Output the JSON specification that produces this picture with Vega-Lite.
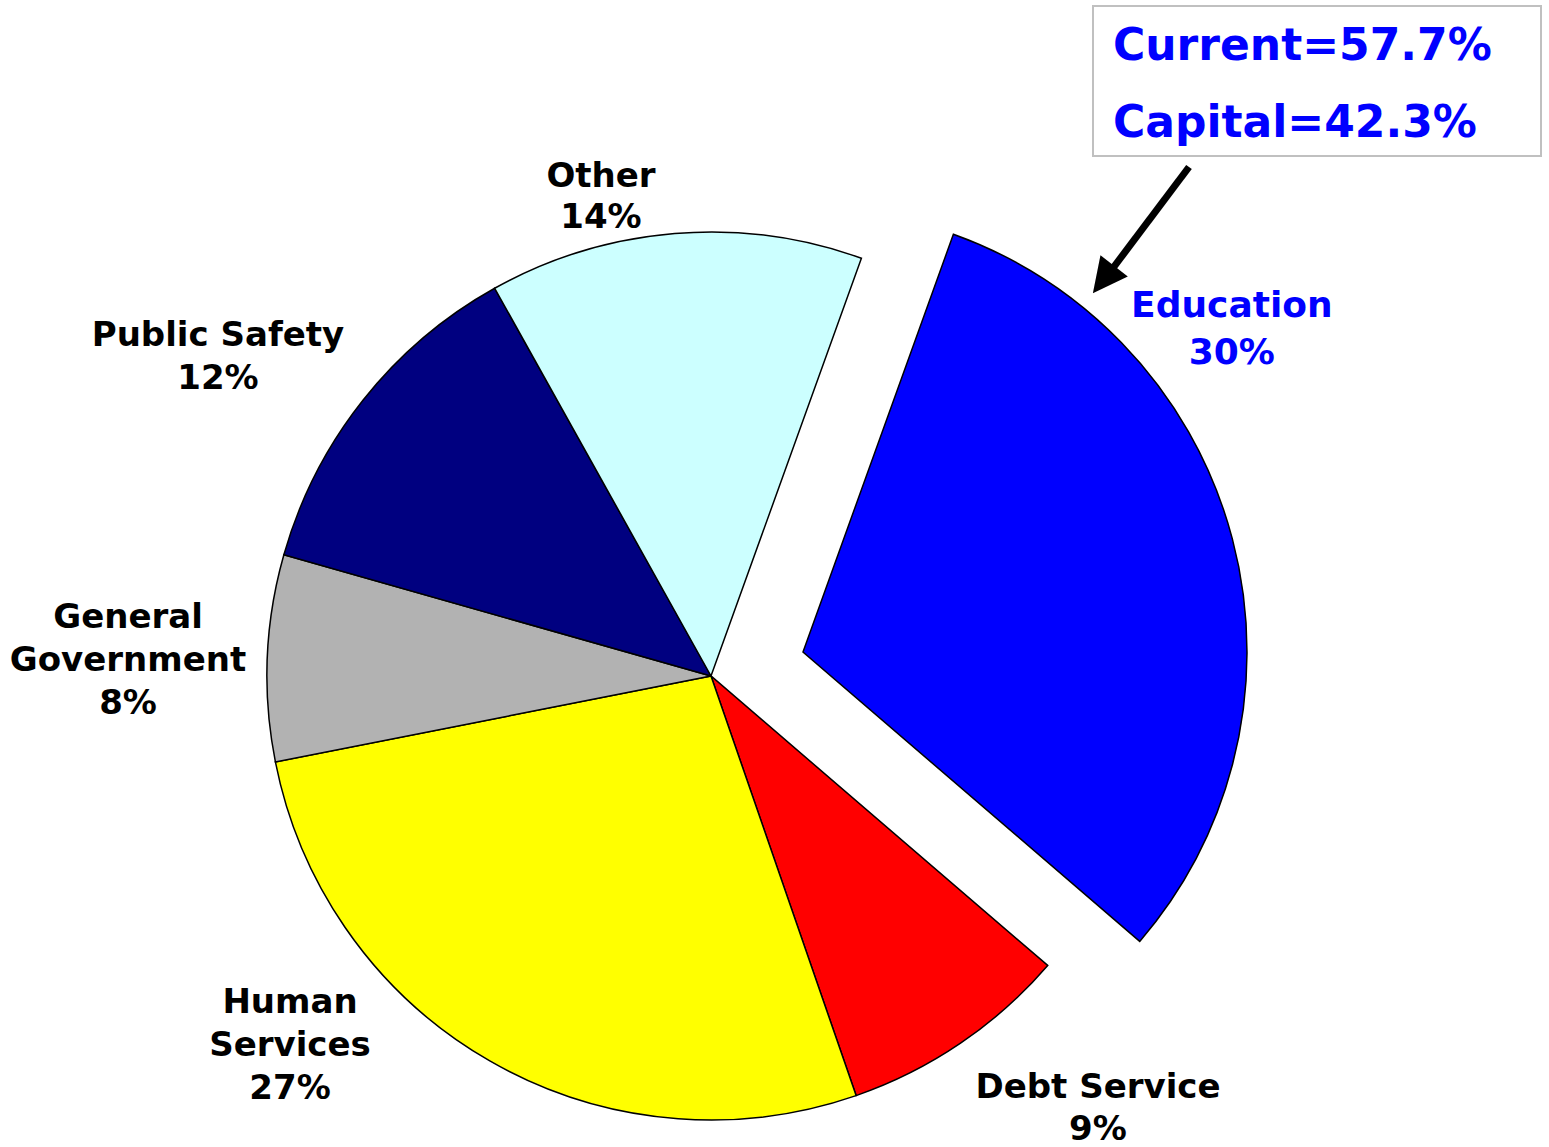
{
  "$schema": "https://vega.github.io/schema/vega-lite/v6.json",
  "width": 888,
  "height": 888,
  "autosize": {"type": "none"},
  "padding": {"left": 267, "top": 232, "right": 394, "bottom": 27},
  "background": "white",
  "config": {"view": {"stroke": null}, "text": {"font": "DejaVu Sans", "fontWeight": "bold"}},
  "layer": [
    {
      "data": {"values": [
        {"category": "Education", "value": 30.8, "order": 1, "label": "Education\n30%"},
        {"category": "Debt Service", "value": 8.4, "order": 2, "label": "Debt Service\n9%"},
        {"category": "Human Services", "value": 27.2, "order": 3, "label": "Human\nServices\n27%"},
        {"category": "General Government", "value": 7.5, "order": 4, "label": "General\nGovernment\n8%"},
        {"category": "Public Safety", "value": 12.5, "order": 5, "label": "Public Safety\n12%"},
        {"category": "Other", "value": 13.6, "order": 6, "label": "Other\n14%"}
      ]},
      "transform": [
        {"stack": "value", "groupby": [], "sort": [{"field": "order"}], "as": ["v0", "v1"]},
        {"calculate": "(datum.v0 + datum.v1) / 2", "as": "mid"}
      ],
      "layer": [
        {
          "transform": [{"filter": "datum.category !== 'Education'"}],
          "mark": {"type": "arc", "stroke": "black", "strokeWidth": 1.5},
          "encoding": {
            "theta": {"field": "v0", "type": "quantitative", "stack": null, "scale": {"domain": [0, 100], "range": [0.3456, 6.6288]}},
            "theta2": {"field": "v1"},
            "color": {"field": "category", "type": "nominal", "legend": null,
              "scale": {"domain": ["Education", "Debt Service", "Human Services", "General Government", "Public Safety", "Other"],
                        "range": ["#0000FF", "#FF0000", "#FFFF00", "#B2B2B2", "#000080", "#CCFFFF"]}}
          }
        },
        {
          "transform": [{"filter": "datum.category === 'Education'"}],
          "mark": {"type": "arc", "stroke": "black", "strokeWidth": 1.5, "xOffset": 92, "yOffset": -24},
          "encoding": {
            "theta": {"field": "v0", "type": "quantitative", "stack": null, "scale": {"domain": [0, 100], "range": [0.3456, 6.6288]}},
            "theta2": {"field": "v1"},
            "color": {"field": "category", "type": "nominal", "legend": null}
          }
        },
        {
          "transform": [{"filter": "datum.category === 'Education'"}],
          "mark": {"type": "text", "radius": 520, "dx": 18, "dy": -238, "fontSize": 36, "lineHeight": 47, "lineBreak": "\n", "align": "center", "baseline": "middle", "color": "#0000FF"},
          "encoding": {"theta": {"field": "mid", "type": "quantitative", "stack": null}, "text": {"field": "label"}}
        },
        {
          "transform": [{"filter": "datum.category === 'Debt Service'"}],
          "mark": {"type": "text", "radius": 520, "dx": 94.7, "dy": -18, "fontSize": 34, "lineHeight": 42, "lineBreak": "\n", "align": "center", "baseline": "middle", "color": "black"},
          "encoding": {"theta": {"field": "mid", "type": "quantitative", "stack": null}, "text": {"field": "label"}}
        },
        {
          "transform": [{"filter": "datum.category === 'Human Services'"}],
          "mark": {"type": "text", "radius": 520, "dx": -161.9, "dy": -124, "fontSize": 34, "lineHeight": 43, "lineBreak": "\n", "align": "center", "baseline": "middle", "color": "black"},
          "encoding": {"theta": {"field": "mid", "type": "quantitative", "stack": null}, "text": {"field": "label"}}
        },
        {
          "transform": [{"filter": "datum.category === 'General Government'"}],
          "mark": {"type": "text", "radius": 520, "dx": -63.4, "dy": -37, "fontSize": 34, "lineHeight": 43, "lineBreak": "\n", "align": "center", "baseline": "middle", "color": "black"},
          "encoding": {"theta": {"field": "mid", "type": "quantitative", "stack": null}, "text": {"field": "label"}}
        },
        {
          "transform": [{"filter": "datum.category === 'Public Safety'"}],
          "mark": {"type": "text", "radius": 520, "dx": -85.2, "dy": -17, "fontSize": 34, "lineHeight": 43, "lineBreak": "\n", "align": "center", "baseline": "middle", "color": "black"},
          "encoding": {"theta": {"field": "mid", "type": "quantitative", "stack": null}, "text": {"field": "label"}}
        },
        {
          "transform": [{"filter": "datum.category === 'Other'"}],
          "mark": {"type": "text", "radius": 520, "dx": -67.6, "dy": 19.5, "fontSize": 34, "lineHeight": 41, "lineBreak": "\n", "align": "center", "baseline": "middle", "color": "black"},
          "encoding": {"theta": {"field": "mid", "type": "quantitative", "stack": null}, "text": {"field": "label"}}
        }
      ]
    },
    {
      "data": {"values": [{}]},
      "mark": {"type": "rect", "x": 826, "y": -226, "x2": 1274, "y2": -76, "fill": "white", "stroke": "#C0C0C0", "strokeWidth": 2},
      "encoding": {}
    },
    {
      "data": {"values": [{"text": "Current=57.7%"}]},
      "mark": {"type": "text", "x": 846, "y": -172, "align": "left", "baseline": "alphabetic", "fontSize": 44, "color": "#0000FF"},
      "encoding": {"text": {"field": "text"}}
    },
    {
      "data": {"values": [{"text": "Capital=42.3%"}]},
      "mark": {"type": "text", "x": 846, "y": -95, "align": "left", "baseline": "alphabetic", "fontSize": 44, "color": "#0000FF"},
      "encoding": {"text": {"field": "text"}}
    },
    {
      "data": {"values": [{}]},
      "mark": {"type": "rule", "strokeWidth": 7, "color": "black"},
      "encoding": {"x": {"value": 922}, "y": {"value": -65}, "x2": {"value": 840}, "y2": {"value": 44}}
    },
    {
      "data": {"values": [{}]},
      "mark": {"type": "point", "shape": "M0,-1L1,1L-1,1Z", "x": 836.5, "y": 47.5, "size": 1200, "angle": 217.9, "filled": true, "color": "black", "opacity": 1, "strokeWidth": 0},
      "encoding": {}
    }
  ]
}
